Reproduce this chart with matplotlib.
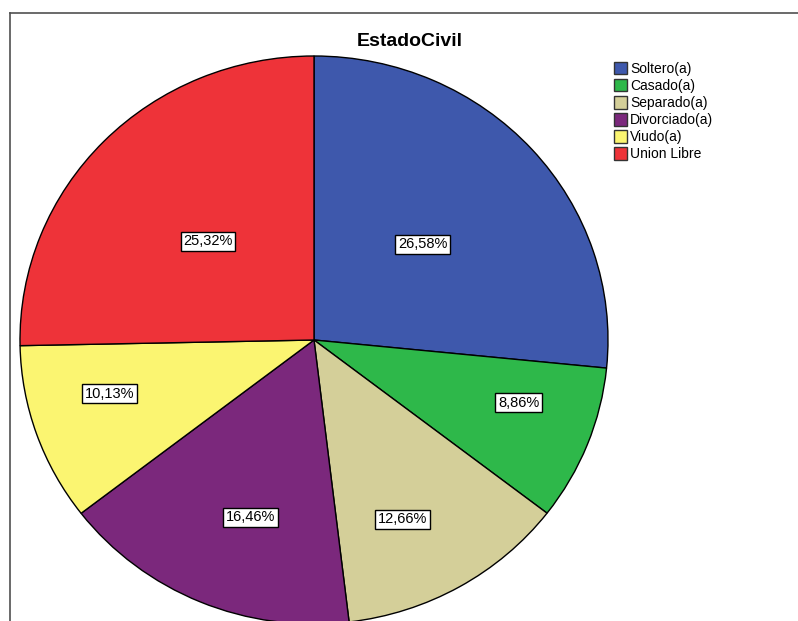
import numpy as np
import matplotlib.pyplot as plt
from matplotlib.lines import Line2D

categorias = ['Soltero(a)', 'Casado(a)', 'Separado(a)', 'Divorciado(a)', 'Viudo(a)', 'Union Libre']
porcentajes = [26.58, 8.86, 12.66, 16.46, 10.13, 25.32]
colores = ['#3E58AC', '#2EB84A', '#D4CF99', '#7B287C', '#FBF571', '#EE3339']

# colocacion de las etiquetas: distancia (fraccion del radio) y desvio angular
dist_etiqueta = [0.50, 0.73, 0.70, 0.66, 0.72, 0.50]
desvio_ang = [0.3, 4.0, -4.1, 3.7, -4.1, 0.5]

W, H = 798, 621
fig = plt.figure(figsize=(W / 100, H / 100), dpi=100)

# marco del grafico
fig.add_artist(Line2D([10 / W, 10 / W], [0, 1 - 13 / H], color='#505050', lw=1.2))
fig.add_artist(Line2D([10 / W, 1], [1 - 13 / H, 1 - 13 / H], color='#505050', lw=1.2))

cx, cy, rx, ry = 314, 340, 294, 284
ax = fig.add_axes([(cx - rx) / W, (H - cy - ry) / H, 2 * rx / W, 2 * ry / H])

wedges, _ = ax.pie(
    porcentajes,
    colors=colores,
    startangle=90,
    counterclock=False,
    radius=1,
    wedgeprops=dict(edgecolor='black', linewidth=1),
    frame=True,
)
ax.set_aspect('auto')
ax.set_xlim(-1, 1)
ax.set_ylim(-1, 1)
ax.axis('off')

for w, p, d, da in zip(wedges, porcentajes, dist_etiqueta, desvio_ang):
    ang = np.deg2rad((w.theta1 + w.theta2) / 2 + da)
    ax.text(d * np.cos(ang), d * np.sin(ang), f'{p:.2f}%'.replace('.', ','),
            ha='center', va='center', fontsize=10.5, family='Liberation Sans',
            bbox=dict(boxstyle='square,pad=0.18', fc='white', ec='black', lw=1))

fig.text(410 / W, 1 - 42 / H, 'EstadoCivil', ha='center', va='center',
         fontsize=14, fontweight='bold', family='Liberation Sans')

leg = fig.legend(wedges, categorias, loc='upper left',
                 bbox_to_anchor=(607 / W, 1 - 55 / H), frameon=False,
                 prop=dict(family='Liberation Sans', size=10),
                 handlelength=0.95, handleheight=1.0, handletextpad=0.2,
                 labelspacing=0.22, borderpad=0)
for h in leg.legend_handles:
    h.set_edgecolor('#333333')

fig.savefig('out.png', dpi=100)
